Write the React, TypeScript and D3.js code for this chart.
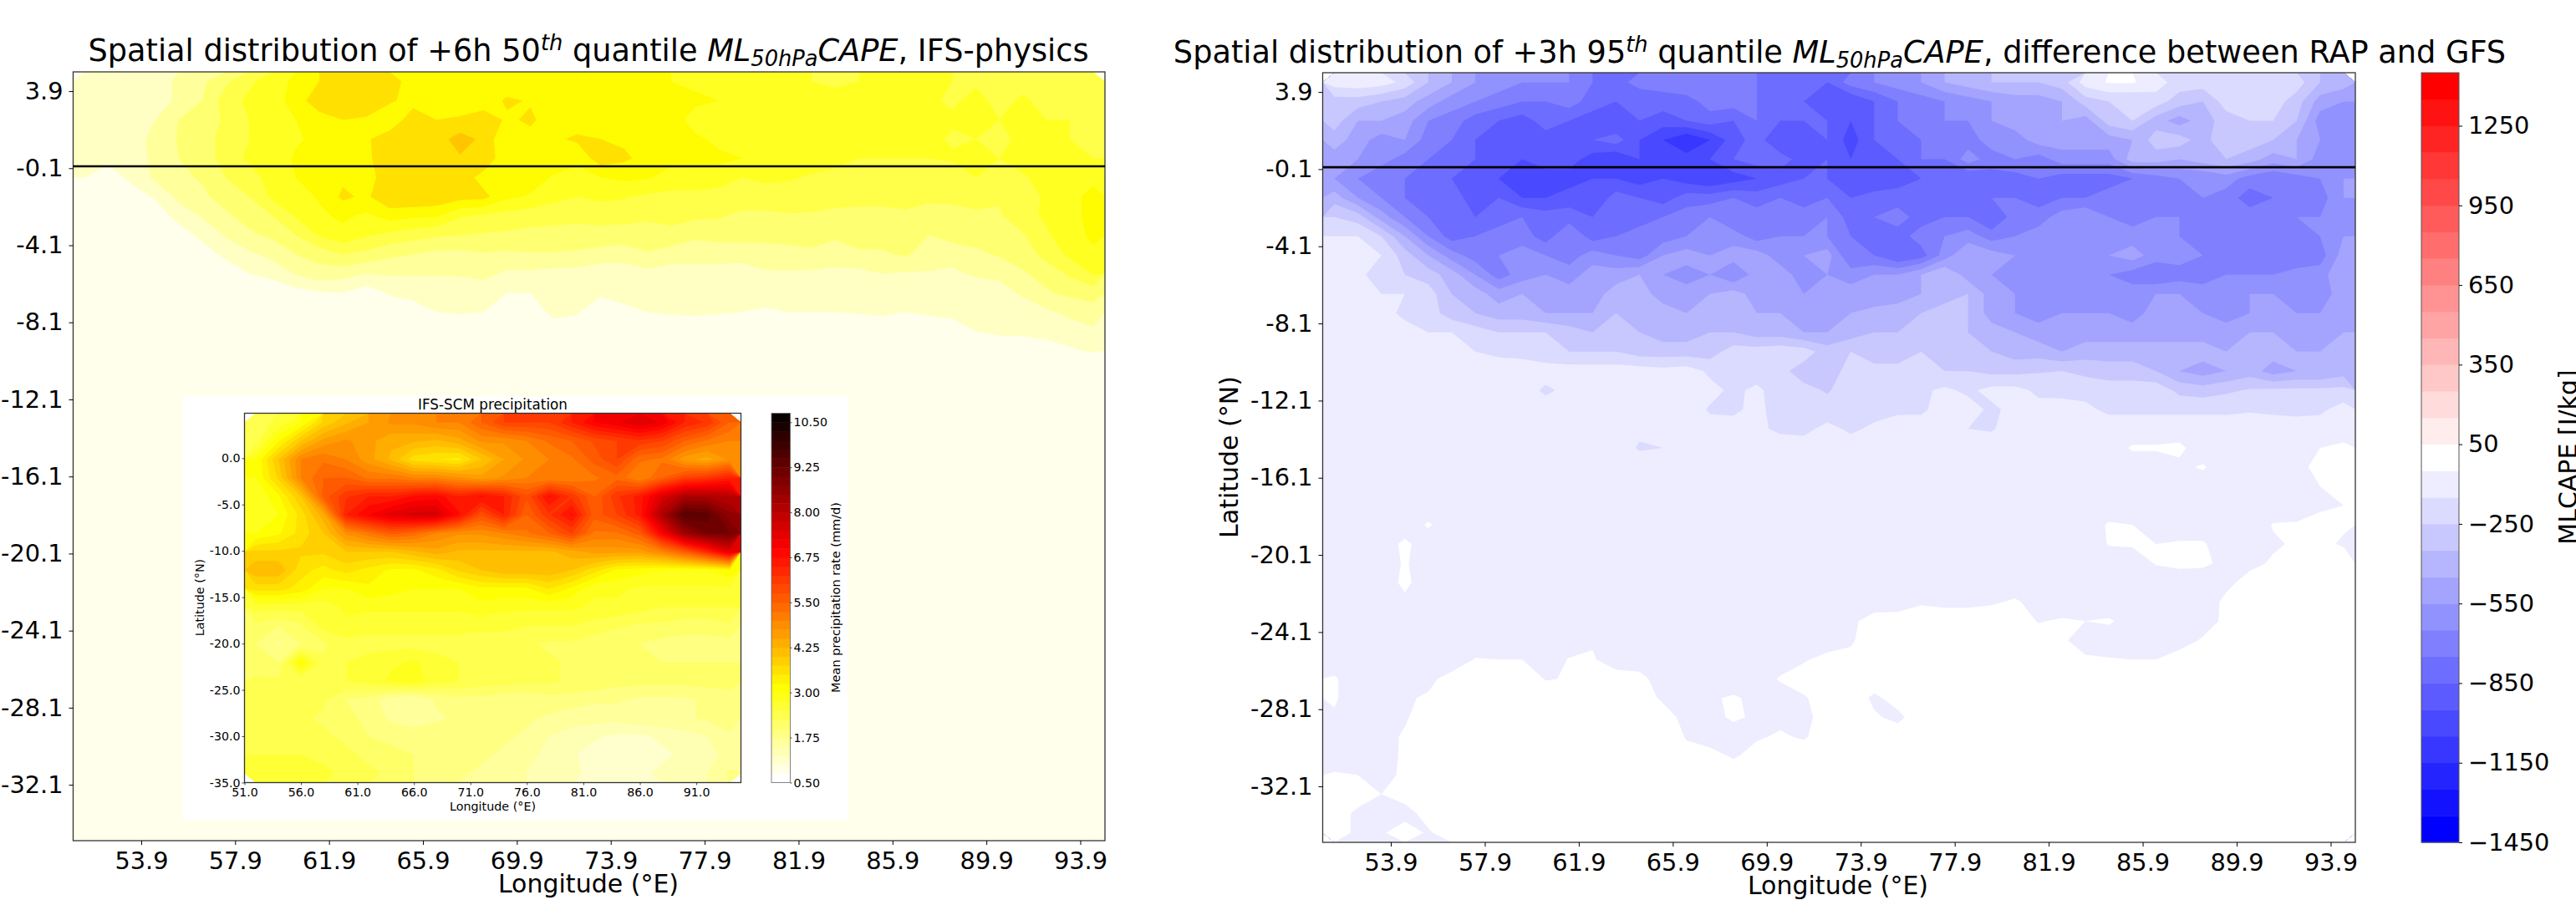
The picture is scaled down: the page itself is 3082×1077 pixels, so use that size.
// App.tsx
import React, { useEffect, useRef } from 'react';
import * as d3 from 'd3';

const font = '"DejaVu Sans", sans-serif';

// left panel, +6h 50th quantile CAPE (J/kg).
// 1 degree cells, lon 51.5..94.5, lat 4.4 downwards; everything south of these rows is the lowest band
const capeMedian = [
  [120, 120, 120, 150, 220, 280, 380, 480, 560, 620, 700, 790, 750, 720, 680, 640, 620, 680, 620, 660, 620, 620, 640, 620, 600, 600, 580, 570, 560, 540, 520, 500, 480, 500, 540, 520, 500, 500, 490, 480, 480, 480, 470, 430],
  [120, 120, 120, 130, 230, 300, 450, 520, 560, 640, 780, 790, 800, 720, 650, 640, 620, 620, 720, 690, 660, 620, 640, 640, 600, 630, 620, 600, 590, 520, 510, 500, 540, 560, 520, 500, 510, 490, 520, 480, 510, 480, 460, 440],
  [110, 110, 130, 200, 300, 330, 420, 500, 540, 600, 640, 700, 680, 600, 780, 700, 720, 780, 680, 720, 640, 640, 660, 640, 620, 650, 560, 580, 600, 560, 520, 540, 520, 500, 530, 530, 560, 510, 530, 500, 500, 500, 500, 470],
  [120, 120, 170, 220, 310, 340, 450, 500, 540, 590, 620, 640, 680, 780, 800, 760, 840, 780, 600, 660, 680, 720, 700, 680, 640, 620, 620, 580, 540, 520, 520, 530, 540, 500, 520, 510, 520, 490, 500, 480, 520, 520, 500, 480],
  [130, 120, 140, 230, 300, 350, 440, 520, 560, 610, 660, 700, 670, 790, 790, 750, 790, 780, 620, 650, 650, 620, 760, 720, 660, 630, 620, 620, 600, 560, 530, 540, 520, 500, 500, 500, 500, 510, 500, 500, 560, 600, 590, 500],
  [100, 60, 120, 220, 280, 310, 400, 450, 550, 600, 700, 680, 640, 780, 780, 790, 760, 660, 620, 640, 590, 570, 600, 620, 610, 560, 560, 560, 500, 520, 510, 490, 480, 480, 490, 470, 480, 450, 500, 480, 480, 560, 570, 570],
  [20, 20, 60, 110, 230, 280, 340, 400, 520, 560, 610, 720, 680, 790, 790, 780, 740, 730, 620, 590, 530, 500, 520, 510, 480, 470, 470, 450, 450, 450, 460, 440, 430, 420, 430, 440, 420, 420, 420, 410, 440, 520, 560, 640],
  [10, 10, 10, 50, 130, 210, 280, 340, 400, 510, 580, 620, 580, 640, 620, 610, 510, 480, 460, 440, 430, 420, 440, 430, 420, 420, 420, 410, 380, 380, 390, 390, 380, 380, 370, 380, 360, 370, 390, 390, 460, 520, 580, 620],
  [10, 10, 10, 10, 60, 120, 210, 280, 320, 400, 510, 570, 510, 470, 440, 410, 400, 390, 380, 370, 370, 370, 360, 360, 350, 380, 320, 340, 340, 340, 350, 340, 320, 350, 330, 330, 300, 340, 340, 360, 390, 480, 580, 610],
  [10, 10, 10, 10, 10, 60, 120, 180, 230, 300, 340, 400, 370, 320, 300, 270, 270, 290, 280, 290, 290, 280, 260, 240, 290, 240, 240, 230, 230, 240, 250, 280, 240, 280, 290, 310, 260, 240, 280, 310, 340, 440, 520, 590],
  [10, 10, 10, 10, 10, 10, 40, 100, 130, 210, 260, 240, 200, 210, 210, 210, 210, 230, 180, 180, 160, 160, 130, 150, 170, 160, 160, 170, 160, 190, 190, 180, 180, 170, 200, 190, 190, 180, 220, 230, 290, 330, 420, 510],
  [10, 10, 10, 10, 10, 10, 10, 10, 30, 60, 90, 100, 40, 110, 120, 130, 130, 140, 100, 100, 130, 130, 120, 130, 120, 110, 120, 120, 130, 130, 120, 140, 120, 130, 130, 130, 130, 120, 120, 150, 220, 290, 320, 340],
  [10, 10, 10, 10, 10, 10, 10, 10, 10, 10, 10, 10, 30, 50, 70, 100, 110, 100, 80, 60, 120, 110, 30, 80, 100, 110, 120, 110, 100, 90, 100, 100, 100, 110, 120, 100, 110, 110, 120, 120, 130, 180, 230, 260],
  [10, 10, 10, 10, 10, 10, 10, 10, 10, 10, 10, 10, 10, 10, 10, 10, 20, 30, 10, 10, 60, 40, 10, 20, 10, 30, 20, 20, 20, 10, 10, 20, 20, 10, 20, 30, 60, 80, 100, 120, 120, 130, 140, 180],
  [10, 10, 10, 10, 10, 10, 10, 10, 10, 10, 10, 10, 10, 10, 10, 10, 10, 10, 10, 10, 10, 10, 10, 10, 10, 10, 10, 10, 10, 10, 10, 10, 10, 10, 10, 10, 20, 20, 20, 30, 40, 60, 90, 110],
  [10, 10, 10, 10, 10, 10, 10, 10, 10, 10, 10, 10, 10, 10, 10, 10, 10, 10, 10, 10, 10, 10, 10, 10, 10, 10, 10, 10, 10, 10, 10, 10, 10, 10, 10, 10, 10, 10, 10, 10, 10, 20, 30, 20],
];

// right panel, +3h 95th quantile CAPE, RAP minus GFS (J/kg), same 1 degree cells, lat 4.4..-34.6
const capeDiff = [
  [-100, -80, -100, -180, -350, -450, -550, -600, -650, -650, -650, -750, -800, -700, -700, -650, -700, -700, -750, -800, -750, -850, -700, -650, -600, -550, -450, -400, -350, -350, -350, -300, -100, -40, -40, -100, -200, -200, -250, -250, -250, -200, -350, -400],
  [-300, -300, -350, -400, -500, -600, -650, -700, -750, -750, -700, -800, -850, -850, -800, -800, -700, -700, -750, -800, -850, -900, -950, -850, -750, -700, -650, -600, -550, -500, -500, -450, -300, -250, -250, -200, -300, -350, -200, -150, -200, -300, -500, -550],
  [-300, -450, -450, -500, -650, -700, -800, -850, -900, -800, -850, -900, -950, -850, -900, -850, -800, -850, -750, -850, -850, -850, -950, -850, -750, -700, -650, -650, -550, -500, -550, -450, -500, -300, -250, -400, -500, -400, -300, -250, -250, -350, -600, -650],
  [-400, -500, -600, -550, -700, -750, -850, -950, -850, -900, -950, -850, -800, -950, -1050, -1150, -1050, -900, -800, -950, -900, -850, -1000, -850, -800, -750, -700, -700, -600, -600, -500, -500, -500, -500, -450, -300, -300, -400, -250, -300, -350, -450, -550, -600],
  [-500, -550, -600, -700, -750, -850, -850, -900, -950, -900, -900, -1000, -1050, -950, -1000, -1000, -950, -850, -800, -800, -900, -850, -950, -950, -850, -750, -750, -600, -700, -650, -700, -600, -600, -600, -400, -400, -450, -400, -350, -400, -500, -450, -600, -600],
  [-550, -650, -750, -750, -800, -850, -950, -950, -1050, -1000, -1000, -950, -950, -1000, -950, -1000, -1050, -1000, -950, -900, -850, -850, -900, -950, -900, -850, -850, -850, -800, -800, -750, -800, -800, -800, -750, -700, -650, -650, -600, -700, -750, -700, -650, -550],
  [-400, -550, -650, -750, -850, -800, -900, -850, -950, -950, -900, -950, -800, -850, -900, -800, -800, -750, -800, -750, -800, -750, -850, -800, -800, -750, -800, -800, -750, -750, -800, -750, -750, -700, -650, -700, -750, -650, -700, -800, -750, -700, -700, -550],
  [-250, -300, -500, -650, -750, -800, -850, -800, -750, -800, -800, -850, -800, -800, -750, -700, -650, -750, -700, -750, -700, -650, -800, -750, -700, -800, -750, -750, -850, -700, -700, -600, -550, -650, -700, -650, -650, -700, -700, -700, -700, -650, -650, -600],
  [-150, -150, -250, -450, -650, -800, -750, -700, -700, -800, -650, -800, -750, -700, -700, -650, -650, -600, -700, -650, -650, -650, -750, -850, -800, -700, -650, -600, -700, -650, -600, -550, -600, -650, -600, -650, -650, -700, -700, -700, -750, -700, -650, -550],
  [-100, -100, -150, -300, -450, -600, -700, -650, -600, -650, -700, -600, -650, -700, -550, -500, -550, -500, -500, -600, -550, -500, -750, -750, -850, -800, -600, -450, -500, -550, -650, -550, -600, -550, -500, -600, -600, -650, -700, -700, -700, -750, -700, -500],
  [-100, -100, -250, -250, -300, -400, -550, -700, -600, -550, -600, -500, -500, -450, -550, -600, -550, -650, -500, -500, -600, -550, -600, -550, -550, -450, -350, -500, -550, -600, -600, -650, -650, -650, -700, -750, -700, -700, -650, -650, -650, -600, -600, -450],
  [-100, -100, -150, -150, -200, -350, -400, -500, -450, -550, -500, -500, -400, -400, -500, -500, -450, -400, -500, -500, -550, -500, -500, -550, -500, -450, -400, -350, -500, -550, -600, -650, -600, -600, -600, -550, -550, -600, -600, -550, -550, -600, -600, -500],
  [-100, -100, -100, -180, -200, -300, -350, -400, -400, -450, -450, -450, -350, -400, -400, -450, -450, -400, -450, -450, -500, -500, -450, -400, -400, -350, -300, -350, -500, -550, -600, -550, -550, -550, -600, -500, -500, -550, -600, -550, -500, -550, -550, -500],
  [-100, -100, -100, -100, -150, -150, -200, -250, -250, -250, -300, -350, -350, -350, -400, -400, -350, -350, -400, -400, -450, -450, -400, -350, -350, -300, -350, -350, -400, -450, -500, -500, -500, -500, -500, -500, -500, -500, -500, -450, -450, -500, -550, -450],
  [-100, -100, -100, -100, -100, -100, -150, -170, -180, -220, -250, -250, -250, -300, -300, -300, -300, -200, -200, -180, -200, -300, -250, -300, -300, -250, -300, -350, -350, -400, -400, -450, -400, -400, -400, -400, -400, -400, -450, -450, -400, -450, -450, -400],
  [-100, -100, -100, -100, -100, -100, -100, -100, -100, -100, -100, -100, -100, -100, -120, -100, -170, -200, -200, -220, -300, -320, -200, -220, -220, -180, -250, -250, -280, -280, -260, -250, -280, -300, -300, -350, -450, -500, -450, -400, -500, -450, -450, -400],
  [-100, -100, -100, -100, -100, -100, -100, -100, -100, -170, -120, -100, -100, -100, -100, -100, -120, -170, -130, -200, -220, -260, -200, -200, -180, -170, -130, -170, -120, -120, -170, -180, -180, -200, -200, -180, -280, -300, -270, -240, -230, -230, -230, -220],
  [-100, -100, -100, -100, -100, -100, -100, -100, -100, -100, -100, -100, -100, -100, -130, -100, -160, -170, -120, -200, -200, -210, -190, -190, -170, -170, -100, -110, -170, -120, -120, -110, -130, -170, -170, -170, -170, -170, -170, -160, -170, -180, -170, -110],
  [-100, -100, -100, -100, -100, -100, -100, -100, -100, -100, -100, -100, -100, -130, -150, -100, -120, -110, -130, -170, -180, -120, -170, -130, -100, -100, -100, -150, -160, -100, -100, -100, -100, -100, -100, -100, -100, -100, -100, -100, -100, -100, -100, -100],
  [-100, -100, -100, -100, -100, -100, -100, -100, -100, -100, -100, -100, -100, -160, -150, -100, -100, -100, -100, -100, -100, -100, -100, -100, -100, -100, -100, -100, -100, -100, -100, -100, -100, -100, -40, -40, -30, -100, -100, -100, -100, -60, -50, -30],
  [-100, -100, -100, -100, -100, -100, -100, -100, -100, -100, -100, -100, -100, -100, -150, -100, -100, -100, -100, -100, -100, -100, -100, -100, -100, -100, -100, -100, -100, -100, -100, -100, -100, -100, -100, -100, -70, -40, -100, -100, -100, -70, -30, -20],
  [-100, -100, -100, -100, -100, -100, -100, -100, -100, -100, -100, -100, -100, -100, -100, -100, -100, -100, -100, -100, -100, -100, -100, -100, -100, -100, -100, -100, -100, -100, -100, -100, -100, -100, -100, -100, -100, -100, -100, -100, -100, -100, -50, -10],
  [-100, -100, -100, -100, -100, -100, -100, -100, -100, -100, -100, -100, -100, -100, -100, -100, -100, -100, -100, -100, -100, -100, -100, -100, -100, -100, -100, -100, -100, -100, -100, -60, -100, -100, -100, -100, -100, -100, -100, -50, -100, -100, -60, -50],
  [-100, -100, -100, -100, -40, -100, -100, -100, -100, -100, -100, -100, -100, -100, -100, -100, -100, -100, -100, -100, -100, -100, -100, -100, -100, -100, -100, -100, -100, -100, -100, -100, -100, -40, -50, -90, -100, -100, -100, -100, -45, -40, -30, -45],
  [-100, -100, -100, -30, -100, -100, -100, -100, -100, -100, -100, -100, -100, -100, -100, -100, -100, -100, -100, -100, -100, -100, -100, -100, -100, -100, -100, -100, -100, -100, -100, -100, -100, -45, -40, -50, -40, -40, -100, -90, -60, -40, -40, -55],
  [-100, -100, -100, -40, -100, -100, -100, -100, -100, -100, -100, -100, -100, -100, -100, -100, -100, -100, -100, -100, -100, -100, -100, -100, -100, -100, -100, -100, -100, -100, -100, -100, -100, -100, -100, -45, -30, -35, -70, -70, -40, -35, -25, -20],
  [-100, -100, -100, -30, -100, -100, -100, -100, -100, -100, -100, -100, -100, -100, -100, -100, -100, -100, -100, -100, -100, -100, -100, -100, -100, -100, -100, -100, -60, -100, -100, -100, -100, -100, -100, -100, -100, -100, -70, -20, -30, -40, -30, -20],
  [-100, -100, -100, -70, -100, -100, -85, -100, -100, -100, -100, -100, -100, -100, -100, -100, -100, -100, -100, -100, -100, -100, -90, -100, -100, -60, -70, -70, -60, -40, -80, -100, -100, -100, -100, -100, -100, -100, -30, -5, -5, -5, -5, -5],
  [-100, -100, -100, -100, -100, -100, -100, -100, -100, -100, -100, -100, -100, -100, -100, -100, -100, -100, -100, -100, -100, -100, -70, -10, -5, -5, -5, -5, -5, -5, -55, -40, -50, -40, -80, -100, -100, -90, -30, -5, -5, -5, -5, -5],
  [-100, -100, -100, -100, -100, -100, -100, -60, -100, -100, -100, -60, -100, -100, -100, -100, -100, -100, -100, -100, -100, -100, -60, -5, -5, -5, -5, -5, -5, -5, -10, -40, -80, -90, -70, -70, -90, -40, -5, -5, -5, -5, -5, -5],
  [-100, -100, -100, -100, -100, -100, -45, -50, -50, -100, -45, -40, -100, -100, -100, -100, -100, -100, -100, -100, -60, -20, -30, -5, -5, -5, -5, -5, -5, -5, -5, -10, -40, -45, -50, -50, -10, -5, -5, -5, -5, -5, -5, -5],
  [-40, -100, -100, -100, -70, -20, -5, -5, -5, -55, -45, -5, -5, -20, -100, -100, -100, -100, -100, -40, -5, -5, -5, -5, -5, -5, -5, -5, -5, -5, -5, -5, -5, -5, -5, -5, -5, -5, -5, -5, -5, -5, -5, -5],
  [-40, -100, -100, -60, -40, -5, -5, -5, -5, -5, -5, -5, -5, -5, -65, -90, -60, -40, -70, -100, -60, -5, -5, -65, -20, -5, -5, -5, -5, -5, -5, -5, -5, -5, -5, -5, -5, -5, -5, -5, -5, -5, -5, -5],
  [-60, -90, -100, -60, -5, -5, -5, -5, -5, -5, -5, -5, -5, -5, -10, -80, -70, -40, -60, -70, -80, -5, -5, -40, -70, -5, -5, -5, -5, -5, -5, -5, -5, -5, -5, -5, -5, -5, -5, -5, -5, -5, -5, -5],
  [-100, -100, -80, -40, -5, -5, -5, -5, -5, -5, -5, -5, -5, -5, -5, -55, -90, -80, -60, -40, -60, -5, -5, -5, -5, -5, -5, -5, -5, -5, -5, -5, -5, -5, -5, -5, -5, -5, -5, -5, -5, -5, -5, -5],
  [-100, -100, -100, -30, -5, -5, -5, -5, -5, -5, -5, -5, -5, -5, -5, -30, -20, -60, -20, -30, -5, -5, -5, -5, -5, -5, -5, -5, -5, -5, -5, -5, -5, -5, -5, -5, -5, -5, -5, -5, -5, -5, -5, -5],
  [-40, -50, -85, -30, -5, -5, -5, -5, -5, -5, -5, -5, -5, -5, -5, -5, -5, -5, -5, -5, -5, -5, -5, -5, -5, -5, -5, -5, -5, -5, -5, -5, -5, -5, -5, -5, -5, -5, -5, -5, -5, -5, -5, -5],
  [-20, -5, -50, -20, -5, -5, -5, -5, -5, -5, -5, -5, -5, -5, -5, -5, -5, -5, -5, -5, -5, -5, -5, -5, -5, -5, -5, -5, -5, -5, -5, -5, -5, -5, -5, -5, -5, -5, -5, -5, -5, -5, -5, -5],
  [-5, -70, -90, -80, -20, -5, -5, -5, -5, -5, -5, -5, -5, -5, -5, -5, -5, -5, -5, -5, -5, -5, -5, -5, -5, -5, -5, -5, -5, -5, -5, -5, -5, -5, -5, -5, -5, -5, -5, -5, -5, -5, -5, -5],
  [-5, -70, -60, -10, -60, -5, -5, -5, -5, -5, -5, -5, -5, -5, -5, -5, -5, -5, -5, -5, -5, -5, -5, -5, -5, -5, -5, -5, -5, -5, -5, -5, -5, -5, -5, -5, -5, -5, -5, -5, -5, -5, -5, -5],
];

// inset, IFS-SCM mean precipitation (mm/d), 2 degree cells, lon 52..94, lat 4..-34
const precip = [
  [2.3, 2.6, 3, 3.8, 4.2, 4.5, 4.8, 4.8, 5, 5, 5.5, 6, 6, 6, 6.5, 7, 7.2, 7.5, 7.2, 6.5, 6.2, 5.5],
  [2.4, 3.2, 4, 4.6, 4.8, 4.6, 4.3, 4.3, 4.2, 4.4, 4.8, 4.8, 5, 5.3, 5.5, 5.8, 6, 6.2, 6, 5.5, 5.2, 5],
  [3, 4, 5, 5.2, 5, 4.6, 4.2, 3.6, 3.5, 3.4, 4, 4.5, 4.8, 5, 5.2, 5.6, 6, 5.3, 5.2, 4.6, 4.4, 4.8],
  [3, 3.8, 5, 5.5, 5.5, 5.2, 5.2, 5, 5, 4.8, 4.6, 4.8, 5, 5, 5, 5.2, 5.4, 5, 5.5, 6, 6.2, 6.5],
  [2.8, 3.2, 4, 5.6, 6.2, 6.5, 6.5, 6.8, 6.9, 6.5, 6.8, 6.5, 5.8, 6.8, 6.2, 5.5, 6.2, 6.6, 7.5, 8.2, 8.2, 8],
  [2.8, 3, 3.6, 4.4, 6.5, 7, 7.4, 7.6, 7.6, 6.8, 5.8, 6.5, 5.5, 6.2, 6.8, 5.6, 6, 6.6, 8.2, 9.5, 9.4, 8.6],
  [3, 3.2, 3.6, 4, 4.8, 5.2, 5.6, 5.4, 5, 4.8, 4.8, 5, 5.2, 5.5, 6, 5.2, 5.2, 5.6, 7, 8.4, 9, 9],
  [3.8, 3.8, 3.8, 3.8, 4, 4, 4, 4.2, 4.4, 4.2, 4.2, 4.2, 4.2, 4.2, 4.4, 4.6, 4.6, 4.6, 5, 5.6, 6.4, 7.4],
  [4.2, 4.2, 3.6, 3.4, 3.6, 3.4, 3.2, 3.2, 3.4, 3.8, 4, 4.2, 4.2, 4.2, 4, 3.6, 3.2, 3.1, 3, 3, 3, 3.2],
  [3.6, 3.6, 3.4, 3, 3, 3.2, 3.1, 3, 3, 3, 3.2, 3.2, 3.2, 3.5, 3.2, 2.8, 2.8, 2.7, 2.7, 2.7, 2.7, 2.7],
  [2.6, 2.6, 2.6, 2.6, 2.8, 2.8, 2.8, 2.8, 2.8, 2.8, 2.9, 2.8, 2.8, 2.8, 2.8, 2.7, 2.7, 2.6, 2.5, 2.5, 2.5, 2.5],
  [2.2, 2, 2.2, 2.6, 2.7, 2.6, 2.6, 2.6, 2.6, 2.6, 2.6, 2.6, 2.5, 2.5, 2.5, 2.4, 2.3, 2.2, 2.2, 2.1, 2.1, 2.2],
  [2, 1.7, 2, 2.2, 2.4, 2.4, 2.4, 2.4, 2.4, 2.4, 2.3, 2.3, 2.3, 2.2, 2.2, 2.1, 2, 2, 1.9, 1.9, 1.9, 1.9],
  [2.1, 2, 3.2, 2.3, 2.5, 2.6, 2.7, 2.8, 2.6, 2.5, 2.4, 2.4, 2.3, 2.3, 2.2, 2.2, 2.1, 2.1, 2, 2, 2, 2],
  [2.3, 2.3, 2.3, 2.4, 2.5, 2.6, 2.8, 2.9, 2.6, 2.5, 2.4, 2.4, 2.3, 2.3, 2.2, 2.2, 2.1, 2.1, 2.1, 2.1, 2.1, 2.1],
  [2.4, 2.4, 2.4, 2.3, 2, 1.9, 1.6, 1.5, 1.8, 1.9, 1.9, 1.8, 1.8, 1.9, 1.9, 1.8, 1.8, 1.7, 1.7, 1.7, 1.8, 1.9],
  [2.3, 2.3, 2.3, 2.2, 2.1, 1.9, 1.7, 1.6, 1.7, 1.8, 1.9, 1.9, 1.8, 1.7, 1.6, 1.6, 1.6, 1.7, 1.7, 1.7, 1.8, 1.9],
  [2.4, 2.4, 2.4, 2.3, 2.2, 2, 1.9, 1.9, 1.9, 1.8, 1.8, 1.8, 1.7, 1.5, 1.4, 1.3, 1.2, 1.2, 1.3, 1.4, 1.5, 1.7],
  [2.5, 2.5, 2.5, 2.4, 2.3, 2.2, 2.1, 2, 1.9, 1.8, 1.8, 1.7, 1.6, 1.4, 1.3, 1.1, 1, 1.1, 1.2, 1.3, 1.4, 1.6],
  [2.6, 2.7, 2.7, 2.6, 2.4, 2.3, 2.2, 2, 1.9, 1.8, 1.7, 1.6, 1.5, 1.4, 1.3, 1.2, 1.2, 1.2, 1.3, 1.4, 1.5, 1.8],
];

// tick labels
const mainLonTicks = [53.9, 57.9, 61.9, 65.9, 69.9, 73.9, 77.9, 81.9, 85.9, 89.9, 93.9];
const mainLatTicks = [3.9, -0.1, -4.1, -8.1, -12.1, -16.1, -20.1, -24.1, -28.1, -32.1];
const insetLonTicks = [51, 56, 61, 66, 71, 76, 81, 86, 91];
const insetLatTicks = [0, -5, -10, -15, -20, -25, -30, -35];
const diffBarTicks = [-1450, -1150, -850, -550, -250, 50, 350, 650, 950, 1250];
const precipBarTicks = [0.5, 1.75, 3, 4.25, 5.5, 6.75, 8, 9.25, 10.5];

const hotR = d3.scaleLinear<string>().domain([0, 0.254, 0.635, 1]).range(['#ffffff', '#ffff00', '#ff0000', '#0a0000']);
const bwr = d3.scaleLinear<string>().domain([0, 0.5, 1]).range(['#0000ff', '#ffffff', '#ff0000']);

const medianLevels = d3.range(0, 2500, 100);
const diffLevels = d3.range(-1450, 1451, 100);
const precipLevels = d3.range(0.5, 10.76, 0.25);

const medianColor = (lo: number) => hotR((lo + 50) / 2500);
const diffColor = (lo: number) => bwr((lo + 50 + 1400) / 2800);
const precipColor = (lo: number) => hotR((lo + 0.125 - 0.625) / 10);

type Box = { left: number; right: number; top: number; bottom: number };

const drawField = (svg: any, rows: number[][], levels: number[], color: (lo: number) => string, box: Box) => {
  const nx = rows[0].length;
  const ny = rows.length;
  const x = d3.scaleLinear().domain([0, nx]).range([box.left, box.right]);
  const y = d3.scaleLinear().domain([0, ny]).range([box.top, box.bottom]);
  const path = d3.geoPath(d3.geoTransform({
    point(px, py) {
      this.stream.point(x(px), y(py));
    },
  }));
  const bands = d3.contours().size([nx, ny]).thresholds(levels.slice(0, -1))(rows.flat());
  svg.append('g').selectAll('path')
    .data(bands.filter(b => b.coordinates.length > 0))
    .join('path')
    .attr('d', path as any)
    .attr('fill', (b: any) => color(b.value));
};

const styleAxis = (sel: any, size: number, width: number) => {
  sel.selectAll('.domain').remove();
  sel.selectAll('line').attr('stroke', '#000').attr('stroke-width', width);
  sel.selectAll('text').attr('font-family', font).attr('font-size', size).attr('fill', '#000');
};

const drawTitle = (svg: any, cx: number, y: number, before: string, after: string, tail: string, size: number) => {
  const t = svg.append('text').attr('x', cx).attr('y', y).attr('text-anchor', 'middle')
    .attr('font-family', font).attr('font-size', size).attr('fill', '#000');
  t.append('tspan').text(before);
  t.append('tspan').attr('dy', -size * 0.36).attr('font-size', size * 0.7).attr('font-style', 'italic').text('th');
  t.append('tspan').attr('dy', size * 0.36).text(after);
  t.append('tspan').attr('font-style', 'italic').text('ML');
  t.append('tspan').attr('dy', size * 0.15).attr('font-size', size * 0.7).attr('font-style', 'italic').text('50hPa');
  t.append('tspan').attr('dy', -size * 0.15).attr('font-style', 'italic').text('CAPE');
  t.append('tspan').text(tail);
};

const drawFrame = (svg: any, box: Box) => {
  svg.append('rect')
    .attr('x', box.left).attr('y', box.top)
    .attr('width', box.right - box.left).attr('height', box.bottom - box.top)
    .attr('fill', 'none').attr('stroke', '#333').attr('stroke-width', 1.3);
};

const drawMainAxes = (svg: any, box: Box, labelSize: number) => {
  const lon = d3.scaleLinear().domain([51, 94.95]).range([box.left, box.right]);
  const lat = d3.scaleLinear().domain([4.9, -35]).range([box.top, box.bottom]);
  const ax = svg.append('g').attr('transform', `translate(0,${box.bottom})`)
    .call(d3.axisBottom(lon).tickValues(mainLonTicks).tickFormat(d3.format('.1f')).tickSize(5).tickPadding(9));
  styleAxis(ax, labelSize, 1);
  const ay = svg.append('g').attr('transform', `translate(${box.left},0)`)
    .call(d3.axisLeft(lat).tickValues(mainLatTicks).tickFormat((d: any) => d3.format('.1f')(d).replace('−', '-')).tickSize(5).tickPadding(7));
  styleAxis(ay, labelSize, 1);
  svg.append('line')
    .attr('x1', box.left).attr('x2', box.right)
    .attr('y1', lat(0)).attr('y2', lat(0))
    .attr('stroke', '#000').attr('stroke-width', 2.6);
};

const App = () => {
  const ref = useRef<SVGSVGElement>(null);

  useEffect(() => {
    const svg = d3.select(ref.current);
    svg.selectAll('*').remove();

    const leftBox = { left: 87.5, right: 1322, top: 86, bottom: 1006 };
    const rightBox = { left: 1582.5, right: 2818, top: 87, bottom: 1008 };
    const insetBox = { left: 292.5, right: 886.5, top: 494.5, bottom: 936.5 };

    // left panel: lowest band everywhere, then the rows that were read
    svg.append('rect')
      .attr('x', leftBox.left).attr('y', leftBox.top)
      .attr('width', leftBox.right - leftBox.left).attr('height', leftBox.bottom - leftBox.top)
      .attr('fill', medianColor(0));
    const medianBottom = leftBox.top + (leftBox.bottom - leftBox.top) * capeMedian.length / 40;
    drawField(svg, capeMedian, medianLevels, medianColor, { ...leftBox, bottom: medianBottom });
    drawFrame(svg, leftBox);
    drawMainAxes(svg, leftBox, 28.8);
    drawTitle(svg, 704, 73, 'Spatial distribution of +6h 50', ' quantile ', ', IFS-physics', 36.7);
    svg.append('text').attr('x', 704).attr('y', 1068).attr('text-anchor', 'middle')
      .attr('font-family', font).attr('font-size', 30).text('Longitude (°E)');

    // inset
    svg.append('rect').attr('x', 219).attr('y', 474.5).attr('width', 795).attr('height', 507).attr('fill', '#fff');
    drawField(svg, precip, precipLevels, precipColor, insetBox);
    drawFrame(svg, insetBox);
    const inLon = d3.scaleLinear().domain([51, 94.95]).range([insetBox.left, insetBox.right]);
    const inLat = d3.scaleLinear().domain([4.85, -35]).range([insetBox.top, insetBox.bottom]);
    const iax = svg.append('g').attr('transform', `translate(0,${insetBox.bottom})`)
      .call(d3.axisBottom(inLon).tickValues(insetLonTicks).tickFormat(d3.format('.1f')).tickSize(3).tickPadding(3));
    styleAxis(iax, 14.2, 0.7);
    const iay = svg.append('g').attr('transform', `translate(${insetBox.left},0)`)
      .call(d3.axisLeft(inLat).tickValues(insetLatTicks).tickFormat((d: any) => d3.format('.1f')(d).replace('−', '-')).tickSize(3).tickPadding(2));
    styleAxis(iay, 14.2, 0.7);
    svg.append('text').attr('x', 589.5).attr('y', 490).attr('text-anchor', 'middle')
      .attr('font-family', font).attr('font-size', 16.8).text('IFS-SCM precipitation');
    svg.append('text').attr('x', 589.5).attr('y', 970).attr('text-anchor', 'middle')
      .attr('font-family', font).attr('font-size', 14.3).text('Longitude (°E)');
    svg.append('text').attr('transform', 'translate(244,715) rotate(-90)').attr('text-anchor', 'middle')
      .attr('font-family', font).attr('font-size', 14.3).text('Latitude (°N)');

    // inset colorbar
    const pBar = d3.scaleLinear().domain([0.5, 10.75]).range([936.5, 494.5]);
    svg.append('g').selectAll('rect')
      .data(precipLevels.slice(0, -1))
      .join('rect')
      .attr('x', 923).attr('width', 22.5)
      .attr('y', d => pBar(d + 0.25))
      .attr('height', d => pBar(d) - pBar(d + 0.25) + 0.5)
      .attr('fill', d => precipColor(d));
    svg.append('rect').attr('x', 923).attr('y', 494.5).attr('width', 22.5).attr('height', 442)
      .attr('fill', 'none').attr('stroke', '#666').attr('stroke-width', 0.8);
    const pAxis = svg.append('g').attr('transform', 'translate(945.5,0)')
      .call(d3.axisRight(pBar).tickValues(precipBarTicks).tickFormat(d3.format('.2f')).tickSize(2).tickPadding(2));
    styleAxis(pAxis, 14.2, 0.7);
    svg.append('text').attr('transform', 'translate(1005,715) rotate(-90)').attr('text-anchor', 'middle')
      .attr('font-family', font).attr('font-size', 14.5).text('Mean precipitation rate (mm/d)');

    // right panel
    svg.append('rect')
      .attr('x', rightBox.left).attr('y', rightBox.top)
      .attr('width', rightBox.right - rightBox.left).attr('height', rightBox.bottom - rightBox.top)
      .attr('fill', '#fff');
    drawField(svg, capeDiff, diffLevels, diffColor, rightBox);
    drawFrame(svg, rightBox);
    drawMainAxes(svg, rightBox, 28.8);
    drawTitle(svg, 2201, 75, 'Spatial distribution of +3h 95', ' quantile ', ', difference between RAP and GFS', 36.7);
    svg.append('text').attr('x', 2199).attr('y', 1070).attr('text-anchor', 'middle')
      .attr('font-family', font).attr('font-size', 30).text('Longitude (°E)');
    svg.append('text').attr('transform', 'translate(1481,547) rotate(-90)').attr('text-anchor', 'middle')
      .attr('font-family', font).attr('font-size', 30).text('Latitude (°N)');

    // right colorbar
    const dBar = d3.scaleLinear().domain([-1450, 1450]).range([1008, 87]);
    svg.append('g').selectAll('rect')
      .data(diffLevels.slice(0, -1))
      .join('rect')
      .attr('x', 2897).attr('width', 45)
      .attr('y', d => dBar(d + 100))
      .attr('height', d => dBar(d) - dBar(d + 100) + 0.5)
      .attr('fill', d => diffColor(d));
    svg.append('rect').attr('x', 2897).attr('y', 87).attr('width', 45).attr('height', 921)
      .attr('fill', 'none').attr('stroke', '#555').attr('stroke-width', 1);
    const dAxis = svg.append('g').attr('transform', 'translate(2942,0)')
      .call(d3.axisRight(dBar).tickValues(diffBarTicks).tickFormat(d3.format('d')).tickSize(4).tickPadding(7));
    styleAxis(dAxis, 28.8, 1);
    svg.append('text').attr('transform', 'translate(3083,547) rotate(-90)').attr('text-anchor', 'middle')
      .attr('font-family', font).attr('font-size', 30).text('MLCAPE [J/kg]');
  }, []);

  return (
    <svg
      ref={ref}
      width={3082}
      height={1077}
      viewBox="0 0 3082 1077"
      style={{ position: 'absolute', left: 0, top: 0, background: '#fff' }}
    />
  );
};

export default App;
